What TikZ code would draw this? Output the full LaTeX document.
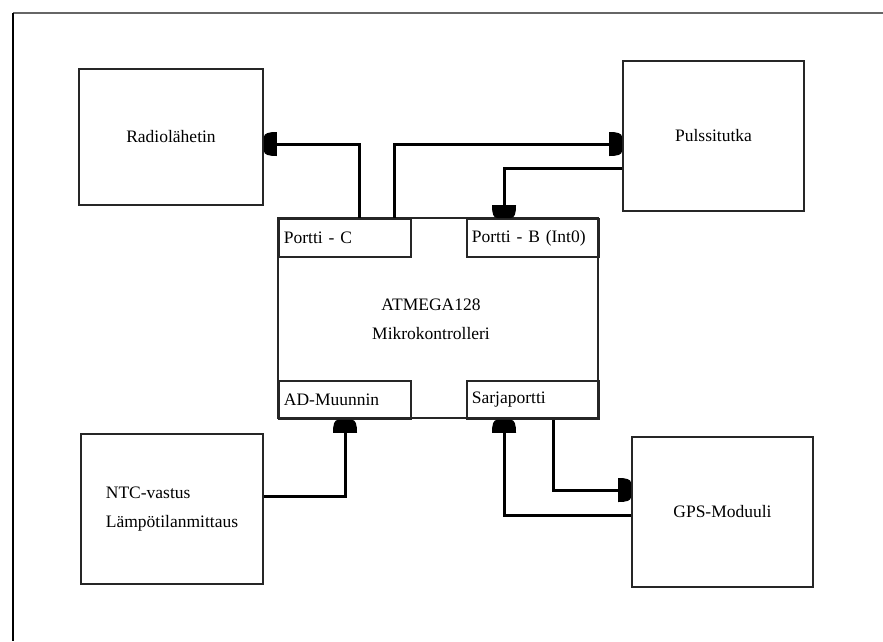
\documentclass[tikz,border=0pt]{standalone}
\usepackage{fontspec}
\setmainfont{Liberation Serif}
\usetikzlibrary{arrows.meta}
\pgfdeclarearrow{
  name = Dome,
  parameters = {\the\pgfarrowlength,\the\pgfarrowwidth},
  setup code = {
    \pgfarrowssettipend{0pt}
    \pgfarrowssetlineend{-.5\pgfarrowlength}
    \pgfarrowssetbackend{-\pgfarrowlength}
    \pgfarrowshullpoint{-\pgfarrowlength}{.5\pgfarrowwidth}
    \pgfarrowshullpoint{-\pgfarrowlength}{-.5\pgfarrowwidth}
    \pgfarrowshullpoint{0pt}{.3\pgfarrowwidth}
    \pgfarrowshullpoint{0pt}{-.3\pgfarrowwidth}
    \pgfarrowssavethe\pgfarrowlength
    \pgfarrowssavethe\pgfarrowwidth
  },
  drawing code = {
    \pgfpathmoveto{\pgfqpoint{-\pgfarrowlength}{.5\pgfarrowwidth}}
    \pgfpathcurveto{\pgfqpoint{-.35\pgfarrowlength}{.5\pgfarrowwidth}}{\pgfqpoint{0pt}{.45\pgfarrowwidth}}{\pgfqpoint{0pt}{.28\pgfarrowwidth}}
    \pgfpathlineto{\pgfqpoint{0pt}{-.28\pgfarrowwidth}}
    \pgfpathcurveto{\pgfqpoint{0pt}{-.45\pgfarrowwidth}}{\pgfqpoint{-.35\pgfarrowlength}{-.5\pgfarrowwidth}}{\pgfqpoint{-\pgfarrowlength}{-.5\pgfarrowwidth}}
    \pgfpathclose
    \pgfusepathqfill
  },
  defaults = {length = 13pt, width = 24pt}
}
\tikzset{
  box/.style={draw=black!85, line width=1.8pt, inner sep=0pt, align=center,
    font=\fontsize{17.5}{29}\selectfont},
  port/.style={draw=black!85, line width=1.8pt, inner ysep=0pt, inner xsep=5pt,
    text width=122pt, align=left, minimum height=38pt, anchor=north west,
    font=\fontsize{17.5}{29}\selectfont},
  conn/.style={line width=3pt, -{Dome}},
  txt/.style={inner sep=0pt, align=center, font=\fontsize{17.5}{29}\selectfont}
}
\begin{document}
\begin{tikzpicture}[x=1pt,y=-1pt]
\useasboundingbox (0,0) rectangle (883,641);
% page frame
\draw[black!60, line width=1.5pt] (13,13) -- (883,13);
\draw[black, line width=1.5pt] (13,13) -- (13,641);
% blocks
\node[box, minimum width=184pt, minimum height=136pt] (radio) at (171,137) {Radiolähetin};
\node[box, minimum width=181pt, minimum height=150pt] (puls) at (713.5,136) {Pulssitutka};
\node[box, align=left, minimum width=182pt, minimum height=150pt] (ntc) at (172,509) {NTC-vastus\\Lämpötilanmittaus};
\node[box, minimum width=181pt, minimum height=150pt] (gps) at (722.5,512) {GPS-Moduuli};
\node[box, minimum width=320pt, minimum height=200pt] (mcu) at (438,318) {};
\node[txt] (mcutxt) at (431,319) {ATMEGA128\\Mikrokontrolleri};
\node[port] (pc) at (278,218) {Portti - C};
\node[port] (pb) at (466,218) {Portti - B (Int0)};
\node[port] (ad) at (278,380) {AD-Muunnin};
\node[port] (sp) at (466,380) {Sarjaportti};
% connectors
\draw[conn] ([xshift=81pt]pc.north west) |- ([yshift=-7pt]radio.east);
\draw[conn] ([xshift=116pt]pc.north west) |- ([yshift=-8pt]puls.west);
\draw[conn] ([yshift=-32pt]puls.west) -| ([xshift=38pt]pb.north west);
\draw[conn] ([yshift=13pt]ntc.east) -| ([xshift=67pt]ad.south west);
\draw[conn] ([xshift=87pt]sp.south west) |- ([yshift=22pt]gps.west);
\draw[conn] ([yshift=-3pt]gps.west) -| ([xshift=38pt]sp.south west);
\end{tikzpicture}
\end{document}
